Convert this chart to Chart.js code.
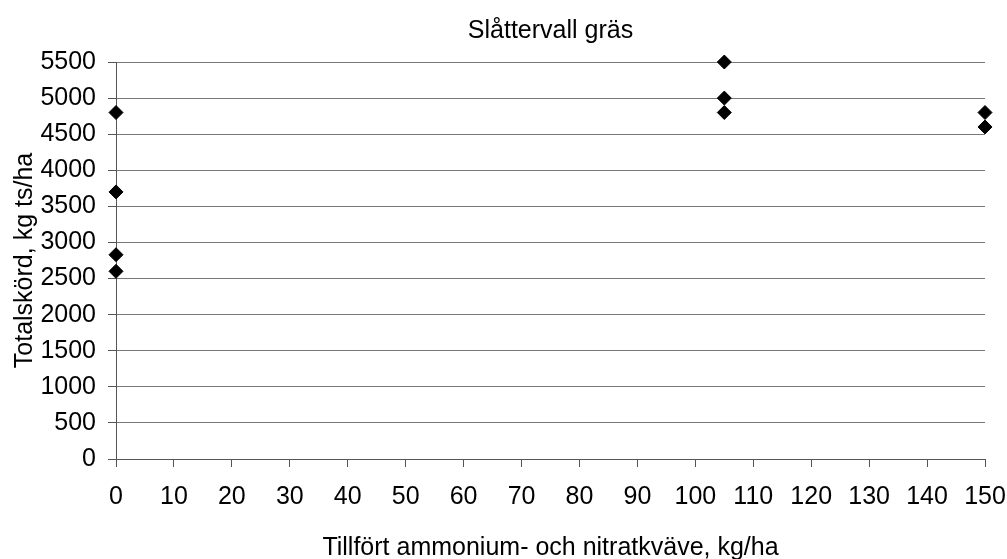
<!DOCTYPE html>
<html>
<head>
<meta charset="utf-8">
<script src="https://cdn.jsdelivr.net/npm/chart.js@4"></script>
<style>
  html, body { margin: 0; padding: 0; background: #fff; }
  #wrap { width: 1007px; height: 559px; }
</style>
</head>
<body>
<div id="wrap"><canvas id="myChart"></canvas></div>
<script>
// values
const dose = [0, 0, 0, 0, 105, 105, 105, 150, 150];
const yieldKg = [4800, 3700, 2830, 2600, 5500, 5000, 4800, 4800, 4600];
const xTicks = [0, 150, 10];
const yTicks = [0, 5500, 500];

const points = dose.map((d, i) => ({ x: d, y: yieldKg[i] }));
const font = { family: 'Liberation Sans, Arial, sans-serif', size: 25 };

document.addEventListener('DOMContentLoaded', function() {
    const ctx = document.getElementById('myChart').getContext('2d');
    Chart.defaults.color = '#000';

    new Chart(ctx, {
        type: 'scatter',
        data: {
            datasets: [{
                label: 'Slåttervall gräs',
                data: points,
                pointStyle: 'rectRot',
                pointRadius: 7,
                pointHoverRadius: 7,
                backgroundColor: '#000',
                borderColor: '#000',
                borderWidth: 1,
                clip: false
            }]
        },
        options: {
            responsive: true,
            maintainAspectRatio: false,
            animation: false,
            layout: { padding: { left: 0, right: 22, top: 0, bottom: 0 } },
            plugins: {
                legend: { display: false },
                tooltip: { enabled: false },
                title: {
                    display: true,
                    fullSize: false,
                    text: 'Slåttervall gräs',
                    color: '#000',
                    font: { ...font, weight: 'normal' },
                    padding: { top: 16, bottom: 16 }
                }
            },
            scales: {
                x: {
                    type: 'linear',
                    min: xTicks[0],
                    max: xTicks[1],
                    afterFit: s => { s.height = 100; s.paddingLeft = 0; s.paddingRight = 0; },
                    ticks: { stepSize: xTicks[2], font: font, color: '#000', padding: 15, maxRotation: 0,
                             callback: v => String(v) },
                    grid: { color: 'transparent', tickColor: '#555', drawTicks: true, tickLength: 8 },
                    border: { display: true, color: '#555', width: 1 },
                    title: {
                        display: true,
                        text: 'Tillfört ammonium- och nitratkväve, kg/ha',
                        font: font,
                        color: '#000',
                        padding: { top: 0, bottom: -4 }
                    }
                },
                y: {
                    type: 'linear',
                    min: yTicks[0],
                    max: yTicks[1],
                    afterFit: s => { s.width = 116; s.paddingTop = 0; s.paddingBottom = 0; },
                    ticks: { stepSize: yTicks[2], font: font, color: '#000', padding: 12,
                             callback: v => String(v) },
                    grid: { color: '#777', tickColor: '#555', drawTicks: true, tickLength: 8 },
                    border: { display: true, color: '#555', width: 1 },
                    title: {
                        display: true,
                        text: 'Totalskörd, kg ts/ha',
                        font: font,
                        color: '#000',
                        padding: { top: 10, bottom: 0 }
                    }
                }
            }
        }
    });
});
</script>
</body>
</html>
